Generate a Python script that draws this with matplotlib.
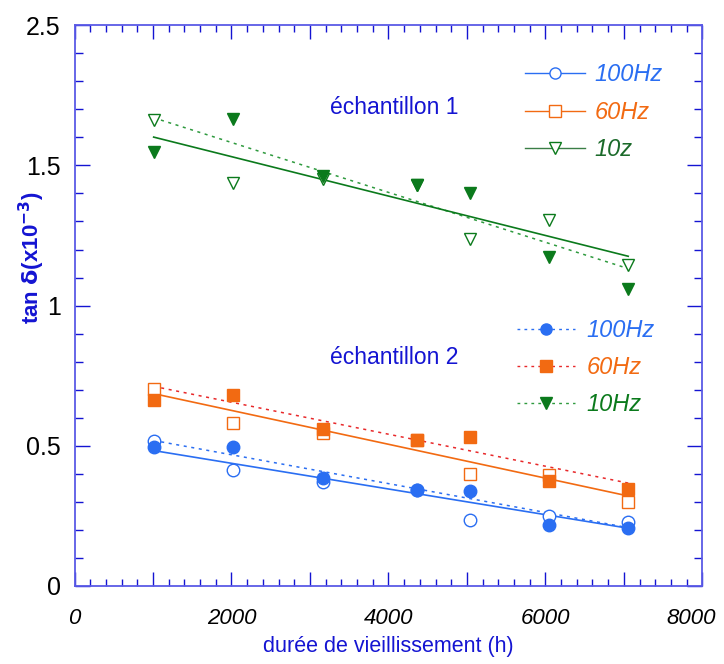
import numpy as np
import matplotlib
matplotlib.use('Agg')
import matplotlib.pyplot as plt
import matplotlib.transforms as mtransforms
from matplotlib.lines import Line2D
from matplotlib.ticker import MultipleLocator, FuncFormatter, FixedLocator, FixedFormatter

plt.rcParams['font.family'] = ['Liberation Sans', 'DejaVu Sans']

# ageing time (h)
hours = [1008, 2016, 3168, 4368, 5040, 6048, 7056]

# open markers (échantillon 1)
open_100 = [0.518, 0.412, 0.370, 0.343, 0.236, 0.248, 0.227]
open_60 = [0.702, 0.583, 0.545, 0.521, 0.400, 0.396, 0.298]
open_10 = [1.662, 1.436, 1.450, 1.429, 1.236, 1.307, 1.146]

# filled markers (échantillon 2)
fill_100 = [0.494, 0.494, 0.385, 0.343, 0.339, 0.218, 0.206]
fill_60 = [0.664, 0.682, 0.560, 0.521, 0.531, 0.375, 0.345]
fill_10 = [1.548, 1.664, 1.464, 1.429, 1.402, 1.174, 1.060]

# trend lines: (start, end) at first/last ageing time
trend_open = {'100': (0.519, 0.208), '60': (0.712, 0.367), '10': (1.670, 1.132)}
trend_fill = {'100': (0.483, 0.206), '60': (0.686, 0.321), '10': (1.601, 1.176)}

# y tick labels as printed on the original (top one reads 2.5)
ytick_pos = [0, 0.5, 1, 1.5, 2]
ytick_lab = ['0', '0.5', '1', '1.5', '2.5']

BLUE = '#2a6ef2'
ORANGE = '#f26a12'
GREEN = '#0b7a1c'
GREEN_L1 = '#3a7e46'
RED = '#e8282a'
GREEN_DOT = '#2e9a3e'
AXBLUE = '#1414d2'
SPINE = '#5a5ae6'

fig = plt.figure(figsize=(7.24, 6.64), dpi=100)
ax = fig.add_axes([0.103, 0.1175, 0.867, 0.8445])

x_ends = [hours[0], hours[-1]]
ax.plot(x_ends, trend_open['100'], ls=(0, (2, 3)), color=BLUE, lw=1.1)
ax.plot(x_ends, trend_open['60'], ls=(0, (2, 3)), color=RED, lw=1.1)
ax.plot(x_ends, trend_open['10'], ls=(0, (2, 3)), color=GREEN_DOT, lw=1.1)
ax.plot(x_ends, trend_fill['100'], '-', color=BLUE, lw=1.2)
ax.plot(x_ends, trend_fill['60'], '-', color=ORANGE, lw=1.2)
ax.plot(x_ends, trend_fill['10'], '-', color=GREEN, lw=1.2)

ms = 9
ax.plot(hours, open_100, 'o', ls='none', mfc='white', mec=BLUE, mew=1.0, ms=ms)
ax.plot(hours, open_60, 's', ls='none', mfc='white', mec=ORANGE, mew=1.0, ms=ms)
ax.plot(hours, open_10, 'v', ls='none', mfc='white', mec=GREEN, mew=1.0, ms=ms)
ax.plot(hours, fill_100, 'o', ls='none', color=BLUE, ms=ms)
ax.plot(hours, fill_60, 's', ls='none', color=ORANGE, ms=ms)
ax.plot(hours, fill_10, 'v', ls='none', color=GREEN, ms=ms)

ax.set_xlim(0, 8000)
ax.set_ylim(0, 2.0)

ax.xaxis.set_major_locator(MultipleLocator(1000))
ax.xaxis.set_minor_locator(MultipleLocator(200))
ax.yaxis.set_major_locator(FixedLocator(ytick_pos))
ax.yaxis.set_major_formatter(FixedFormatter(ytick_lab))
ax.yaxis.set_minor_locator(MultipleLocator(0.1))
ax.xaxis.set_major_formatter(FuncFormatter(lambda v, p: '%d' % v if int(round(v)) % 2000 == 0 else ''))
ax.tick_params(which='both', direction='in', top=True, right=True, color=AXBLUE, width=1.0)
ax.tick_params(axis='x', which='major', length=10, pad=16, labelsize=16)
ax.tick_params(axis='x', which='minor', length=5)
ax.tick_params(axis='y', which='major', length=11, pad=10, labelsize=18)
ax.tick_params(axis='y', which='minor', length=6)
for sp in ax.spines.values():
    sp.set_color(SPINE)
    sp.set_linewidth(1.3)

# italic x labels; nudge the last one so it stays inside the figure
fig.canvas.draw()
shift = mtransforms.ScaledTranslation(-8 / 72, 0, fig.dpi_scale_trans)
for tk in ax.xaxis.get_major_ticks():
    tk.label1.set_fontstyle('italic')
    if abs(tk.get_loc() - 8000) < 1:
        tk.label1.set_transform(tk.label1.get_transform() + shift)

ax.set_xlabel('durée de vieillissement (h)', color=AXBLUE, fontsize=15.5, labelpad=5)
ax.set_ylabel(r'tan $\mathbf{\delta}$(x10$^{\mathbf{-3}}$)', color=AXBLUE, fontsize=16,
              fontweight='bold')
ax.yaxis.set_label_coords(-0.044, 0.585)

ax.text(3255, 1.705, 'échantillon 1', color=AXBLUE, fontsize=16.5, va='center')
ax.text(3255, 0.815, 'échantillon 2', color=AXBLUE, fontsize=16.5, va='center')

h1 = [Line2D([], [], color=BLUE, lw=1.0, marker='o', mfc='white', mec=BLUE, ms=8),
      Line2D([], [], color=ORANGE, lw=1.0, marker='s', mfc='white', mec=ORANGE, ms=8),
      Line2D([], [], color=GREEN_L1, lw=1.0, marker='v', mfc='white', mec=GREEN, ms=8)]
leg1 = ax.legend(h1, ['100Hz', '60Hz', '10z'], loc='upper left', bbox_to_anchor=(0.717, 0.932),
                 frameon=False, borderpad=0, borderaxespad=0,
                 handlelength=2.55, handletextpad=0.42, labelspacing=0.61,
                 labelcolor=[BLUE, ORANGE, '#1b6a2a'], prop={'style': 'italic', 'size': 17})
ax.add_artist(leg1)

h2 = [Line2D([], [], color=BLUE, lw=1.0, ls=(0, (2, 3)), marker='o', ms=8),
      Line2D([], [], color=RED, lw=1.0, ls=(0, (2, 3)), marker='s', mfc=ORANGE, mec=ORANGE, ms=8),
      Line2D([], [], color=GREEN_DOT, lw=1.0, ls=(0, (2, 3)), marker='v', mfc=GREEN, mec=GREEN, ms=8)]
ax.legend(h2, ['100Hz', '60Hz', '10Hz'], loc='upper left', bbox_to_anchor=(0.705, 0.476),
          frameon=False, borderpad=0, borderaxespad=0,
          handlelength=2.45, handletextpad=0.5, labelspacing=0.6,
          labelcolor=[BLUE, ORANGE, GREEN], prop={'style': 'italic', 'size': 17})

fig.savefig('out.png', dpi=100)
